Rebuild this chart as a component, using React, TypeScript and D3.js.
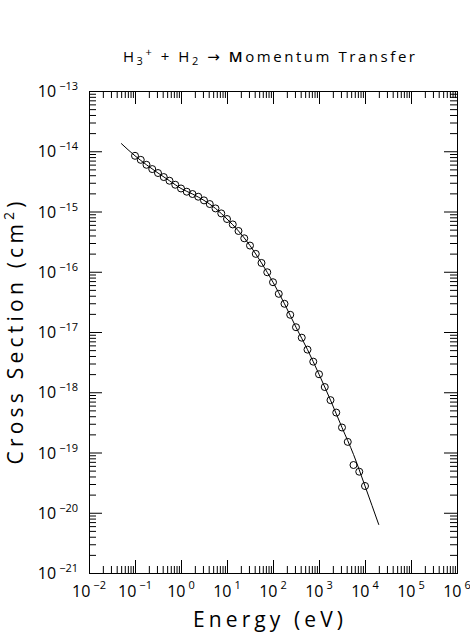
import React, { useEffect, useRef } from 'react';
import * as d3 from 'd3';

// measured points (energy in eV, cross section in cm^2)
const energy = [
  0.1, 0.1334, 0.1778, 0.2371, 0.3162, 0.4217, 0.5623, 0.7499,
  1, 1.334, 1.778, 2.371, 3.162, 4.217, 5.623, 7.499,
  10, 13.34, 17.78, 23.71, 31.62, 42.17, 56.23, 74.99,
  100, 133.4, 177.8, 237.1, 316.2, 421.7, 562.3, 749.9,
  1000, 1334, 1778, 2371, 3162, 4217, 5623, 7499, 10000,
];
const sigma = [
  8.4e-15, 7.2e-15, 5.96e-15, 5.06e-15, 4.35e-15, 3.73e-15, 3.24e-15, 2.78e-15,
  2.41e-15, 2.13e-15, 1.95e-15, 1.76e-15, 1.53e-15, 1.33e-15, 1.125e-15, 9.3e-16,
  7.5e-16, 6.1e-16, 4.75e-16, 3.59e-16, 2.72e-16, 1.98e-16, 1.4e-16, 9.8e-17,
  6.7e-17, 4.3e-17, 2.94e-17, 1.93e-17, 1.2e-17, 8.05e-18, 5.1e-18, 3.22e-18,
  1.99e-18, 1.22e-18, 7.4e-19, 4.6e-19, 2.6e-19, 1.5e-19, 6.2e-20, 4.8e-20, 2.78e-20,
];

// fitted curve
const fitEnergy = [
  0.05, 0.1, 0.1778, 0.3162, 0.5623, 1, 1.778, 3.162, 5.623, 10, 17.78, 31.62,
  56.23, 100, 177.8, 316.2, 562.3, 1000, 1778, 3162, 5623, 10000, 20000,
];
const fitSigma = [
  1.35e-14, 8.4e-15, 5.96e-15, 4.35e-15, 3.24e-15, 2.41e-15, 1.95e-15, 1.53e-15,
  1.125e-15, 7.5e-16, 4.75e-16, 2.72e-16, 1.4e-16, 6.7e-17, 2.94e-17, 1.2e-17,
  5.1e-18, 1.99e-18, 7.4e-19, 2.6e-19, 9.3e-20, 2.78e-20, 6.3e-21,
];

const xExponents = [-2, -1, 0, 1, 2, 3, 4, 5, 6];
const yExponents = [-21, -20, -19, -18, -17, -16, -15, -14, -13];
const minorSteps = [2, 3, 4, 5, 6, 7, 8, 9];

const font = '"Open Sans", "DejaVu Sans", sans-serif';
const minus = (e: number) => (e < 0 ? '\u2212' + Math.abs(e) : String(e));

const App = () => {
  const ref = useRef<SVGSVGElement>(null);

  useEffect(() => {
    const svg = d3.select(ref.current);
    svg.selectAll('*').remove();

    const left = 89, right = 457, top = 91, bottom = 573;
    const x = d3.scaleLog().domain([1e-2, 1e6]).range([left, right]);
    const y = d3.scaleLog().domain([1e-21, 1e-13]).range([bottom, top]);

    const xMajor = xExponents.map(e => Math.pow(10, e));
    const yMajor = yExponents.map(e => Math.pow(10, e));
    const xMinor = xExponents.slice(0, -1).flatMap(e => minorSteps.map(m => m * Math.pow(10, e)));
    const yMinor = yExponents.slice(0, -1).flatMap(e => minorSteps.map(m => m * Math.pow(10, e)));

    const ticks = (axis: any, vals: number[], size: number, tr: string) => {
      svg.append('g')
        .attr('transform', tr)
        .call(axis.tickValues(vals).tickSizeInner(size).tickSizeOuter(0).tickFormat(() => ''))
        .call((g: any) => g.select('.domain').remove())
        .call((g: any) => g.selectAll('line').attr('stroke', '#000'));
    };
    ticks(d3.axisBottom(x), xMajor, -13, `translate(0,${bottom})`);
    ticks(d3.axisBottom(x), xMinor, -7, `translate(0,${bottom})`);
    ticks(d3.axisTop(x), xMajor, -13, `translate(0,${top})`);
    ticks(d3.axisTop(x), xMinor, -7, `translate(0,${top})`);
    ticks(d3.axisLeft(y), yMajor, -13, `translate(${left},0)`);
    ticks(d3.axisLeft(y), yMinor, -7, `translate(${left},0)`);
    ticks(d3.axisRight(y), yMajor, -13, `translate(${right},0)`);
    ticks(d3.axisRight(y), yMinor, -7, `translate(${right},0)`);

    svg.append('rect')
      .attr('x', left + 0.5).attr('y', top + 0.5)
      .attr('width', right - left).attr('height', bottom - top)
      .attr('fill', 'none').attr('stroke', '#000');

    // tick labels
    xExponents.forEach(e => {
      const t = svg.append('text')
        .attr('x', x(Math.pow(10, e))).attr('y', 597)
        .attr('text-anchor', 'middle').attr('fill', '#000')
        .attr('font-family', font).attr('font-size', 16);
      t.append('tspan').text('10');
      t.append('tspan').attr('dx', 3).attr('dy', -8).attr('font-size', 11).text(minus(e));
    });
    yExponents.forEach(e => {
      const t = svg.append('text')
        .attr('x', 78).attr('y', y(Math.pow(10, e)) + 6)
        .attr('text-anchor', 'end').attr('fill', '#000')
        .attr('font-family', font).attr('font-size', 16);
      t.append('tspan').text('10');
      t.append('tspan').attr('dx', 3).attr('dy', -7).attr('font-size', 11).text(minus(e));
    });

    // fit line
    const line = d3.line<number>()
      .x((d, i) => x(fitEnergy[i]))
      .y(d => y(d))
      .curve(d3.curveMonotoneX);
    svg.append('path')
      .attr('d', line(fitSigma))
      .attr('fill', 'none').attr('stroke', '#000').attr('stroke-width', 1);

    // data points
    svg.append('g').selectAll('circle')
      .data(sigma)
      .join('circle')
      .attr('cx', (d, i) => x(energy[i]))
      .attr('cy', d => y(d))
      .attr('r', 3.5)
      .attr('fill', 'none').attr('stroke', '#000').attr('stroke-width', 1);

    // titles
    const title = svg.append('text')
      .attr('x', 269).attr('y', 62)
      .attr('text-anchor', 'middle').attr('fill', '#000')
      .attr('textLength', 292).attr('lengthAdjust', 'spacing')
      .attr('font-family', font).attr('font-size', 15);
    title.append('tspan').text('H');
    title.append('tspan').attr('dy', 3).attr('font-size', 11).text('3');
    title.append('tspan').attr('dy', -9).attr('font-size', 11).text('+');
    title.append('tspan').attr('dy', 6).text(' + H');
    title.append('tspan').attr('dy', 3).attr('font-size', 11).text('2');
    title.append('tspan').attr('dy', -3).text(' \u2192 ');
    title.append('tspan').attr('font-weight', 600).text('M');
    title.append('tspan').text('omentum Transfer');

    svg.append('text')
      .attr('x', 268).attr('y', 627)
      .attr('text-anchor', 'middle').attr('fill', '#000')
      .attr('textLength', 150).attr('lengthAdjust', 'spacing')
      .attr('font-family', font).attr('font-size', 21)
      .text('Energy (eV)');

    const yt = svg.append('text')
      .attr('transform', 'translate(23,333) rotate(-90)')
      .attr('text-anchor', 'middle').attr('fill', '#000')
      .attr('textLength', 263).attr('lengthAdjust', 'spacing')
      .attr('font-family', font).attr('font-size', 21);
    yt.append('tspan').text('Cross Section (cm');
    yt.append('tspan').attr('dy', -9).attr('font-size', 14).text('2');
    yt.append('tspan').attr('dy', 9).text(')');
  }, []);

  return (
    <svg ref={ref} width={470} height={634}
      style={{ position: 'absolute', left: 0, top: 0, background: '#fff' }} />
  );
};

export default App;
